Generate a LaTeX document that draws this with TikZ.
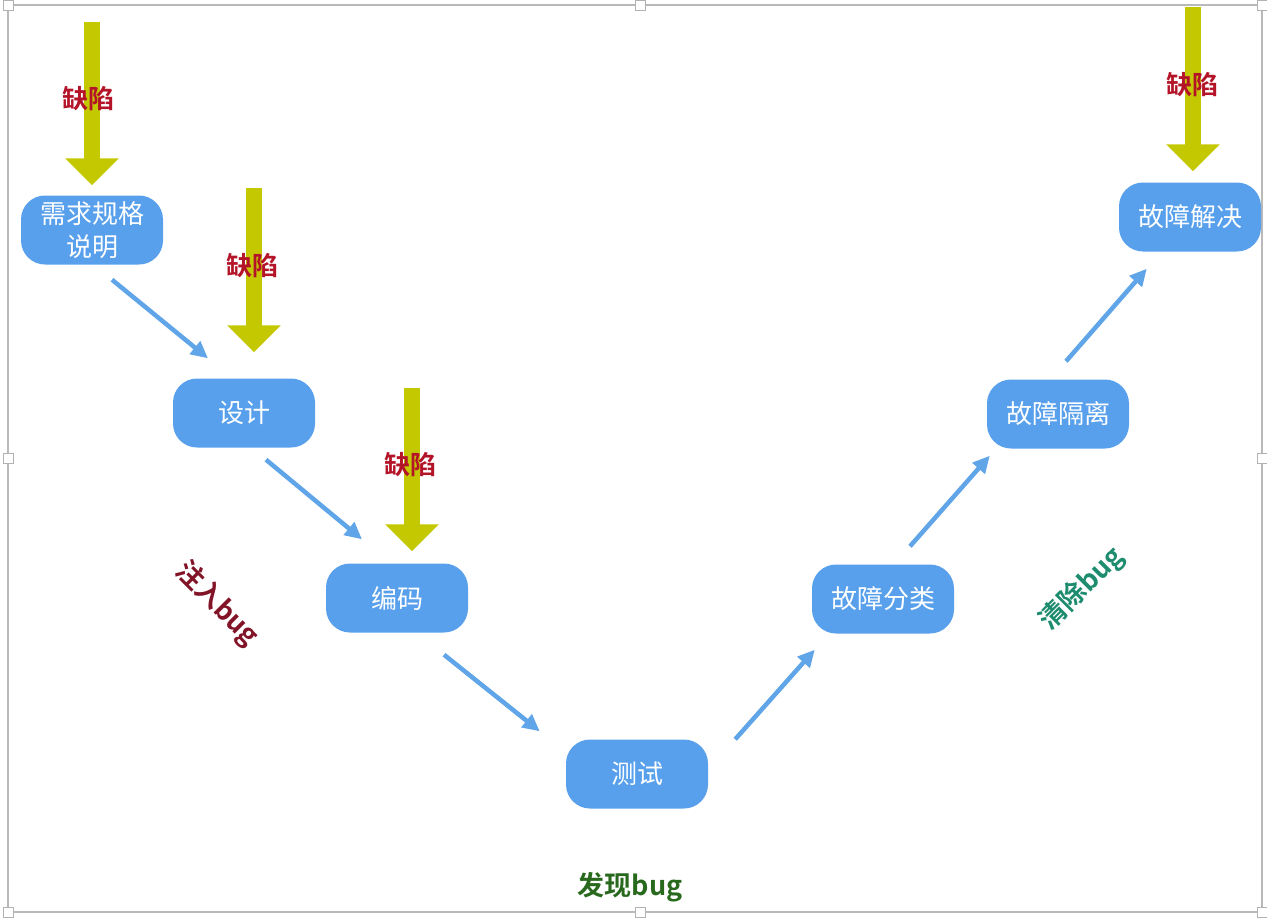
\documentclass[tikz,border=0pt]{standalone}
\usepackage{fontspec}
\newfontfamily\cjk{Noto Sans CJK SC}
\newfontfamily\cjkbold{Noto Sans CJK SC Bold}
\usetikzlibrary{arrows.meta, positioning}
\definecolor{stageblue}{RGB}{88,160,236}
\definecolor{flowblue}{RGB}{95,165,232}
\definecolor{defectyellow}{RGB}{196,200,0}
\definecolor{defectred}{RGB}{180,20,40}
\definecolor{injectred}{RGB}{130,20,40}
\definecolor{cleargreen}{RGB}{30,140,110}
\definecolor{findgreen}{RGB}{40,105,30}
\tikzset{
  stage/.style={
    rectangle,
    rounded corners=24pt,
    fill=stageblue,
    text=white,
    minimum width=142pt,
    minimum height=69pt,
    align=center,
    font=\cjk\fontsize{26}{33}\selectfont
  },
  flow/.style={
    -{Triangle[length=17pt,width=16pt]},
    line width=4.5pt,
    color=flowblue
  },
  defect/.style={
    -{Triangle[length=27pt,width=52pt]},
    line width=16pt,
    color=defectyellow
  },
  defect label/.style={
    text=defectred,
    font=\cjkbold\fontsize{26}{30}\selectfont
  },
  phase label/.style={
    font=\cjkbold\fontsize{27}{30}\selectfont
  },
  handle/.style={
    draw=gray!60,
    fill=white,
    line width=1pt,
    minimum size=10pt,
    inner sep=0pt
  }
}
\begin{document}
\begin{tikzpicture}[x=1pt, y=-1pt]
  \useasboundingbox (0,0) rectangle (1267,921);
  % frame
  \draw[gray!55, line width=2pt] (8,5) rectangle (1262,912);
  \foreach \hx/\hy in {8/5, 640/5, 1262/5, 8/458, 1262/458, 8/912, 640/912, 1262/912}
    \node[handle] at (\hx,\hy) {};

  % stages of the V
  \node[stage] (req) at (92,230) {需求规格\\说明};
  \node[stage] (des) at (244,413) {设计};
  \node[stage] (cod) at (397,598) {编码};
  \node[stage] (tst) at (637,774) {测试};
  \node[stage] (cls) at (883,599) {故障分类};
  \node[stage] (iso) at (1058,414) {故障隔离};
  \node[stage] (sol) at (1190,217) {故障解决};

  % flow between stages
  \draw[flow] ([xshift=20pt,yshift=-15pt]req.south) -- ([xshift=-36pt,yshift=20pt]des.north);
  \draw[flow] ([xshift=22pt,yshift=-12pt]des.south) -- ([xshift=-35pt,yshift=24pt]cod.north);
  \draw[flow] ([xshift=47pt,yshift=-22pt]cod.south) -- ([xshift=-26pt,yshift=8pt]tst.north west);
  \draw[flow] ([xshift=27pt]tst.north east) -- ([xshift=3pt,yshift=-16pt]cls.south west);
  \draw[flow] ([xshift=27pt,yshift=18pt]cls.north) -- ([xshift=3pt,yshift=-7pt]iso.south west);
  \draw[flow] ([xshift=8pt,yshift=18pt]iso.north) -- ([xshift=28pt,yshift=-17pt]sol.south west);

  % defects going in
  \draw[defect] ([yshift=173pt]req.north) -- ([yshift=10pt]req.north)
    node[defect label, pos=0.47, xshift=-4pt] {缺陷};
  \draw[defect] ([xshift=10pt,yshift=190pt]des.north) -- ([xshift=10pt,yshift=26pt]des.north)
    node[defect label, pos=0.47, xshift=-2pt] {缺陷};
  \draw[defect] ([xshift=15pt,yshift=175pt]cod.north) -- ([xshift=15pt,yshift=12pt]cod.north)
    node[defect label, pos=0.47, xshift=-2pt] {缺陷};
  \draw[defect] ([xshift=3pt,yshift=175pt]sol.north) -- ([xshift=3pt,yshift=11pt]sol.north)
    node[defect label, pos=0.47, xshift=-1pt] {缺陷};

  % phase labels
  \node[phase label, text=injectred, rotate=-45] (inject) at (217,604) {注入bug};
  \node[phase label, text=cleargreen, rotate=45] (clear) at (1082,589) {清除bug};
  \node[phase label, text=findgreen] (find) at (630,887) {发现bug};
\end{tikzpicture}
\end{document}
